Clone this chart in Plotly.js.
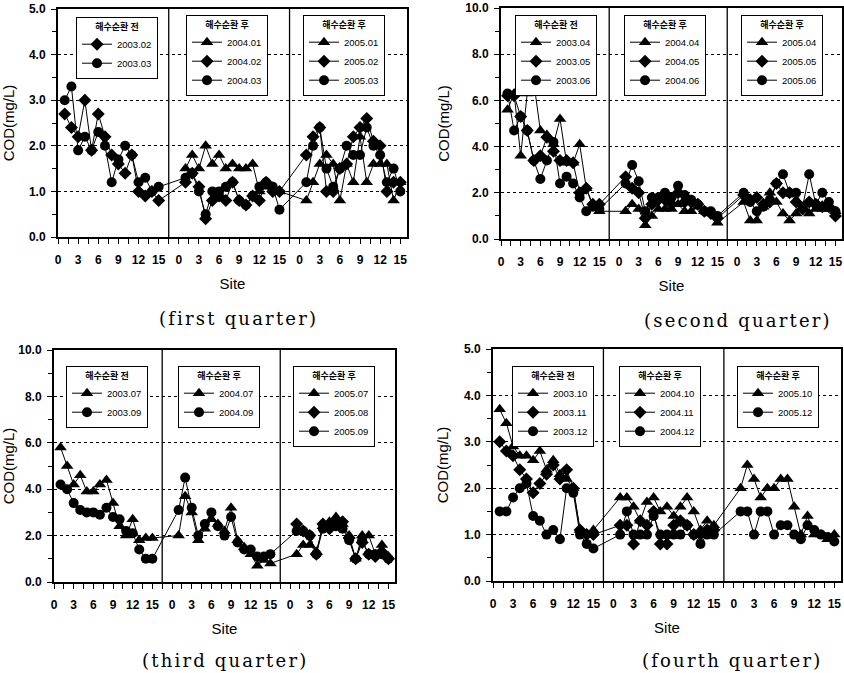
<!DOCTYPE html>
<html><head><meta charset="utf-8">
<script src="https://cdn.plot.ly/plotly-3.0.1.min.js"></script>
<style>html,body{margin:0;padding:0;background:#fff}#chart{width:844px;height:673px}</style>
</head><body><div id="chart"></div>
<script>
// ---------- data ----------
const SITES = [1,2,3,4,5,6,7,8,9,10,11,12,13,14,15];
const X_TICK_LABELS = ['0','3','6','9','12','15'];
const HEAD_BEFORE = '해수순환 전';
const HEAD_AFTER = '해수순환 후';

// first quarter
const COD_2003_02 = [2.7,2.4,2.2,3.0,1.9,2.7,2.2,1.8,1.6,1.4,1.8,1.0,0.9,1.0,0.8];
const COD_2003_03 = [3.0,3.3,1.9,2.2,1.9,2.3,2.0,1.2,1.7,2.0,1.8,1.2,1.3,1.0,1.1];
const COD_2004_01 = [1.5,1.8,1.5,2.0,1.6,1.8,1.5,1.6,1.5,1.5,1.6,1.0,1.1,1.1,1.0];
const COD_2004_02 = [1.2,1.4,1.1,0.4,0.8,0.9,0.8,1.2,0.8,0.7,0.9,0.8,1.2,1.0,1.0];
const COD_2004_03 = [1.3,1.4,1.0,0.5,1.0,1.0,1.1,1.2,0.8,0.7,0.9,1.1,1.2,1.1,0.6];
const COD_2005_01 = [0.8,1.2,1.6,1.8,1.6,0.8,1.6,1.2,2.2,1.2,1.6,1.6,1.6,0.8,1.2];
const COD_2005_02 = [1.8,2.2,2.4,1.0,1.0,1.5,1.6,2.2,2.4,2.6,2.1,2.0,1.0,1.2,1.2];
const COD_2005_03 = [1.2,2.0,2.4,1.5,1.1,1.5,2.0,1.8,1.8,2.4,2.0,1.8,1.2,1.5,1.0];
// second quarter
const COD_2003_04 = [5.6,6.3,3.6,6.3,6.8,4.7,4.5,4.1,5.2,3.3,3.3,4.1,2.2,1.4,1.2];
const COD_2003_05 = [6.2,6.2,5.3,4.7,3.4,3.6,4.4,3.8,3.4,3.4,3.3,2.0,2.2,1.5,1.5];
const COD_2003_06 = [6.3,4.7,5.3,4.7,3.4,2.6,3.4,4.2,2.4,2.7,2.4,1.8,1.2,1.4,1.3];
const COD_2004_04 = [1.2,1.5,1.3,0.6,1.0,1.3,1.3,1.3,1.5,1.2,1.2,1.4,1.2,1.1,0.7];
const COD_2004_05 = [2.7,2.2,2.0,0.9,1.5,1.7,1.7,1.5,2.0,1.6,1.6,1.5,1.2,1.1,0.9];
const COD_2004_06 = [2.4,3.2,2.5,1.2,1.8,1.8,2.0,1.8,2.3,1.9,1.7,1.5,1.2,1.2,1.0];
const COD_2005_04 = [1.6,0.8,0.8,1.4,2.0,1.6,1.1,0.8,1.1,1.3,1.1,1.3,1.3,1.3,1.2];
const COD_2005_05 = [1.9,1.7,1.8,1.5,1.6,2.4,2.0,2.0,1.6,1.3,1.6,1.5,1.4,1.4,1.0];
const COD_2005_06 = [2.0,1.6,1.2,1.4,1.7,2.4,2.8,2.0,2.0,1.4,2.8,1.5,2.0,1.6,1.2];
// third quarter
const COD_2003_07 = [5.8,5.0,4.2,4.6,3.9,3.9,4.2,4.4,3.4,2.4,2.0,2.7,1.8,1.9,1.9];
const COD_2003_09 = [4.2,4.0,3.4,3.1,3.0,3.0,2.9,3.2,2.8,2.7,2.2,2.1,1.4,1.0,1.0];
const COD_2004_07 = [2.0,3.7,3.0,1.8,2.3,2.7,2.5,2.2,3.2,1.8,1.5,1.2,0.7,0.95,0.8];
const COD_2004_09 = [3.1,4.5,3.2,2.0,2.5,3.0,2.4,2.0,2.8,1.7,1.4,1.4,1.1,1.1,1.2];
const COD_2005_07 = [1.2,1.6,1.6,1.3,2.4,2.6,2.8,2.5,2.0,1.0,2.0,2.0,1.2,1.6,1.1];
const COD_2005_08 = [2.5,2.2,2.0,1.2,2.5,2.3,2.6,2.6,1.9,1.0,1.7,1.2,1.1,1.3,1.0];
const COD_2005_09 = [2.2,2.2,2.0,1.2,2.3,2.4,2.4,2.3,1.8,1.0,1.8,1.2,1.2,1.2,1.0];
// fourth quarter
const COD_2003_10 = [3.7,3.4,2.9,2.7,2.7,2.6,2.8,2.4,2.6,2.3,2.2,2.0,1.1,1.0,1.1];
const COD_2003_11 = [3.0,2.8,2.7,2.4,2.2,1.9,2.1,2.3,2.5,2.2,2.4,2.0,1.1,1.0,1.0];
const COD_2003_12 = [1.5,1.5,1.8,2.0,2.1,1.4,1.3,1.0,1.1,0.9,2.0,1.9,1.0,0.8,0.7];
const COD_2004_10 = [1.8,1.8,1.6,1.3,1.7,1.8,1.5,1.6,1.4,1.6,1.8,1.5,1.1,1.3,1.2];
const COD_2004_11 = [1.2,1.2,0.8,1.3,1.2,1.5,0.8,0.8,1.2,1.3,1.2,1.0,1.0,1.1,1.1];
const COD_2004_12 = [1.0,1.5,1.0,1.0,1.0,1.4,1.0,1.0,1.0,1.0,1.2,1.0,0.8,1.0,1.0];
const COD_2005_10 = [2.0,2.5,2.2,1.8,2.0,2.0,2.2,2.2,1.6,1.0,1.4,1.0,1.0,0.9,1.0];
const COD_2005_12 = [1.5,1.5,1.0,1.5,1.5,1.0,1.2,1.2,1.0,0.9,1.2,1.1,1.0,0.95,0.85];

const CAPTIONS = ['(first quarter)','(second quarter)','(third quarter)','(fourth quarter)'];

// ---------- layout constants ----------
const W = 844, H = 673;
const SEG_OFFSET = [0, 18, 36];
const SEG_BOUND = [16.5, 34.5];
const X_MAX = 52;
const SYM = {tri:'triangle-up', dia:'diamond', cir:'circle'};
const MSIZE = {tri:11, dia:10, cir:10};

const panels = [
  {box:[58,407,9,237], ymax:5, dt:1, mdt:0.5, cap:[238,318],
   leg:[[76,17],[186,15],[303,15]],
   segs:[
     {head:HEAD_BEFORE, s:[['2003.02','dia',COD_2003_02],['2003.03','cir',COD_2003_03]]},
     {head:HEAD_AFTER, s:[['2004.01','tri',COD_2004_01],['2004.02','dia',COD_2004_02],['2004.03','cir',COD_2004_03]]},
     {head:HEAD_AFTER, s:[['2005.01','tri',COD_2005_01],['2005.02','dia',COD_2005_02],['2005.03','cir',COD_2005_03]]}]},
  {box:[501,842,8,239], ymax:10, dt:2, mdt:1, cap:[738,320],
   leg:[[515,15],[624,15],[741,15]],
   segs:[
     {head:HEAD_BEFORE, s:[['2003.04','tri',COD_2003_04],['2003.05','dia',COD_2003_05],['2003.06','cir',COD_2003_06]]},
     {head:HEAD_AFTER, s:[['2004.04','tri',COD_2004_04],['2004.05','dia',COD_2004_05],['2004.06','cir',COD_2004_06]]},
     {head:HEAD_AFTER, s:[['2005.04','tri',COD_2005_04],['2005.05','dia',COD_2005_05],['2005.06','cir',COD_2005_06]]}]},
  {box:[54,395,350,582], ymax:10, dt:2, mdt:1, cap:[225,660],
   leg:[[66,366],[178,366],[293,366]],
   segs:[
     {head:HEAD_BEFORE, s:[['2003.07','tri',COD_2003_07],['2003.09','cir',COD_2003_09]]},
     {head:HEAD_AFTER, s:[['2004.07','tri',COD_2004_07],['2004.09','cir',COD_2004_09]]},
     {head:HEAD_AFTER, s:[['2005.07','tri',COD_2005_07],['2005.08','dia',COD_2005_08],['2005.09','cir',COD_2005_09]]}]},
  {box:[493,841,349,581], ymax:5, dt:1, mdt:0.5, cap:[732,660],
   leg:[[512,366],[619,366],[737,366]],
   segs:[
     {head:HEAD_BEFORE, s:[['2003.10','tri',COD_2003_10],['2003.11','dia',COD_2003_11],['2003.12','cir',COD_2003_12]]},
     {head:HEAD_AFTER, s:[['2004.10','tri',COD_2004_10],['2004.11','dia',COD_2004_11],['2004.12','cir',COD_2004_12]]},
     {head:HEAD_AFTER, s:[['2005.10','tri',COD_2005_10],['2005.12','cir',COD_2005_12]]}]}
];

// x ticks every 1.5 units, labels at 0..15 step 3 of each segment
const tickvals = [], ticktext = [];
for (let v = 0; v <= X_MAX + 1e-9; v += 1.5) {
  tickvals.push(v);
  let t = '';
  SEG_OFFSET.forEach((o) => {
    const local = v - o;
    if (local >= 0 && local <= 15 && Math.abs(local/3 - Math.round(local/3)) < 1e-9) t = X_TICK_LABELS[Math.round(local/3)];
  });
  ticktext.push(t);
}

const traces = [];
const layout = {
  width: W, height: H, margin: {l:0, r:0, t:0, b:0},
  paper_bgcolor: '#fff', plot_bgcolor: '#fff',
  font: {family: '"Liberation Sans", Arial, sans-serif', color: '#000'},
  shapes: [], annotations: [], showlegend: true
};

panels.forEach((p, pi) => {
  const ax = pi === 0 ? '' : String(pi + 1);
  const xa = 'x' + ax, ya = 'y' + ax;
  const [x0, x1, y0, y1] = p.box;
  layout['xaxis' + ax] = {
    domain: [x0 / W, x1 / W], range: [0, X_MAX], anchor: ya,
    tickmode: 'array', tickvals: tickvals, ticktext: ticktext,
    ticks: 'outside', ticklen: 5, tickwidth: 1, tickcolor: '#000', ticklabelstandoff: 6,
    showline: true, linecolor: '#000', linewidth: 2, mirror: true,
    showgrid: false, zeroline: false, fixedrange: true,
    tickfont: {size: 12, weight: 'bold', color: '#000'},
    title: {text: 'Site', font: {size: 15, color: '#000'}, standoff: 12}
  };
  layout['yaxis' + ax] = {
    domain: [1 - y1 / H, 1 - y0 / H], range: [0, p.ymax], anchor: xa,
    tickmode: 'linear', tick0: 0, dtick: p.dt, tickformat: '.1f',
    ticks: 'outside', ticklen: 5, tickwidth: 1, tickcolor: '#000', ticklabelstandoff: 3,
    minor: {tickmode: 'linear', tick0: 0, dtick: p.mdt, ticks: 'outside', ticklen: 4, tickcolor: '#000', showgrid: false},
    showline: true, linecolor: '#000', linewidth: 2, mirror: true,
    showgrid: true, gridcolor: '#000', gridwidth: 1, griddash: '3px,3px',
    zeroline: false, fixedrange: true,
    tickfont: {size: 12, weight: 'bold', color: '#000'},
    title: {text: 'COD(mg/L)', font: {size: 15, color: '#000'}, standoff: 12}
  };
  SEG_BOUND.forEach(b => layout.shapes.push({
    type: 'line', xref: xa, yref: ya + ' domain', x0: b, x1: b, y0: 0, y1: 1,
    line: {color: '#000', width: 1.3}
  }));
  layout.annotations.push({
    xref: 'paper', yref: 'paper', x: p.cap[0] / W, y: 1 - p.cap[1] / H,
    xanchor: 'center', yanchor: 'middle', showarrow: false,
    text: '<span style="letter-spacing:2.2px">' + CAPTIONS[pi] + '</span>',
    font: {family: '"DejaVu Serif", serif', size: 18, color: '#000'}
  });

  p.segs.forEach((seg, si) => {
    const lid = pi * 3 + si + 1;
    const lname = lid === 1 ? 'legend' : 'legend' + lid;
    layout[lname] = {
      x: p.leg[si][0] / W, y: 1 - p.leg[si][1] / H, xanchor: 'left', yanchor: 'top',
      bgcolor: '#fff', bordercolor: '#000', borderwidth: 1,
      font: {size: 9.5, color: '#000', family: '"Liberation Sans", Arial, sans-serif'},
      title: {text: seg.head, side: 'top center', font: {size: 9, weight: 'bold', family: '"Noto Sans CJK KR", sans-serif'}},
      itemclick: false, itemdoubleclick: false
    };
    seg.s.forEach(([label, key, vals]) => {
      traces.push({
        type: 'scatter', mode: 'lines+markers', name: label, legend: lname,
        x: SITES.map(v => v + SEG_OFFSET[si]), y: vals,
        xaxis: xa, yaxis: ya, cliponaxis: false,
        line: {color: '#000', width: 1},
        marker: {symbol: SYM[key], size: MSIZE[key], color: '#000'},
        hoverinfo: 'x+y+name'
      });
    });
    // connectors to next segment for same marker type
    if (si < p.segs.length - 1) {
      const next = p.segs[si + 1];
      seg.s.forEach(([label, key, vals]) => {
        const match = next.s.find(e => e[1] === key);
        if (!match) return;
        traces.push({
          type: 'scatter', mode: 'lines', showlegend: false, hoverinfo: 'skip',
          x: [SITES[SITES.length - 1] + SEG_OFFSET[si], SITES[0] + SEG_OFFSET[si + 1]],
          y: [vals[vals.length - 1], match[2][0]],
          xaxis: xa, yaxis: ya, line: {color: '#000', width: 1}
        });
      });
    }
  });
});

Plotly.newPlot('chart', traces, layout, {staticPlot: true, displayModeBar: false});
</script></body></html>
